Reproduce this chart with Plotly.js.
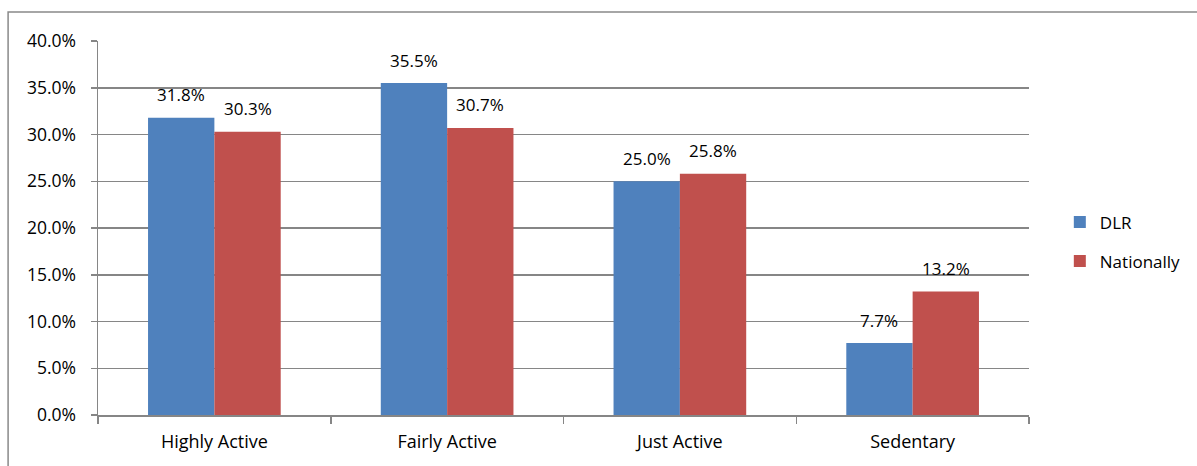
<!DOCTYPE html>
<html>
<head>
<meta charset="utf-8">
<script src="https://cdn.plot.ly/plotly-3.0.1.min.js"></script>
<style>
html,body{margin:0;padding:0;background:#fff;}
#chart{width:1197px;height:466px;}
</style>
</head>
<body>
<div id="chart"></div>
<script>
const categories = ["Highly Active", "Fairly Active", "Just Active", "Sedentary"];
const dlr = [0.318, 0.355, 0.250, 0.077];
const nationally = [0.303, 0.307, 0.258, 0.132];
const seriesNames = ["DLR", "Nationally"];
const yTickVals = [0, 0.05, 0.10, 0.15, 0.20, 0.25, 0.30, 0.35, 0.40];

const FONT = "Open Sans, Lato, Liberation Sans, sans-serif";
const GRID = "#868686";

const traces = [
  {type: "bar", name: seriesNames[0], x: categories, y: dlr, marker: {color: "#4F81BD"}, legendgroup: "a", hoverinfo: "none"},
  {type: "bar", name: seriesNames[1], x: categories, y: nationally, marker: {color: "#C0504D"}, legendgroup: "b", hoverinfo: "none"}
];

const barHalf = 33.2;
const annotations = [];
[dlr, nationally].forEach((vals, si) => {
  vals.forEach((v, i) => {
    annotations.push({
      x: categories[i], y: v, xref: "x", yref: "y",
      text: (v * 100).toFixed(1) + "%",
      showarrow: false, xanchor: "center", yanchor: "middle",
      xshift: si === 0 ? -barHalf : barHalf, yshift: 23,
      font: {family: FONT, size: 17, color: "#000"}
    });
  });
});

const layout = {
  width: 1197, height: 466,
  margin: {l: 98, r: 167, t: 41, b: 51, pad: 0},
  paper_bgcolor: "#fff", plot_bgcolor: "#fff",
  font: {family: FONT, size: 17, color: "#000"},
  barmode: "group", bargap: 0.43, bargroupgap: 0,
  showlegend: true,
  legend: {x: 1.032, y: 0.463, xanchor: "left", yanchor: "middle", traceorder: "grouped",
           tracegroupgap: 14, font: {family: FONT, size: 17, color: "#000"}, itemwidth: 30},
  xaxis: {
    type: "category", showgrid: false, showline: true, linecolor: GRID, linewidth: 1.5,
    ticks: "outside", tickson: "boundaries", ticklen: 7, tickcolor: GRID, tickwidth: 1.5,
    ticklabelstandoff: 10, tickfont: {family: FONT, size: 18}, fixedrange: true
  },
  yaxis: {
    range: [0, 0.4], tickvals: yTickVals, tickformat: ".1%", showgrid: true, gridcolor: GRID, gridwidth: 1.5,
    showline: true, linecolor: GRID, linewidth: 1.5, zeroline: false,
    ticks: "outside", ticklen: 6, tickcolor: GRID, tickwidth: 1.5, ticklabelstandoff: 11,
    tickfont: {family: FONT, size: 17.5}, fixedrange: true
  },
  annotations: annotations,
  shapes: [{
    type: "rect", xref: "paper", yref: "paper",
    x0: (8 - 98) / 932, x1: (1210 - 98) / 932,
    y0: (415 - 480) / 374, y1: (415 - 12) / 374,
    line: {color: "#898989", width: 1.5}, fillcolor: "rgba(0,0,0,0)", layer: "below"
  }]
};

Plotly.newPlot("chart", traces, layout, {displayModeBar: false, staticPlot: true});
</script>
</body>
</html>
